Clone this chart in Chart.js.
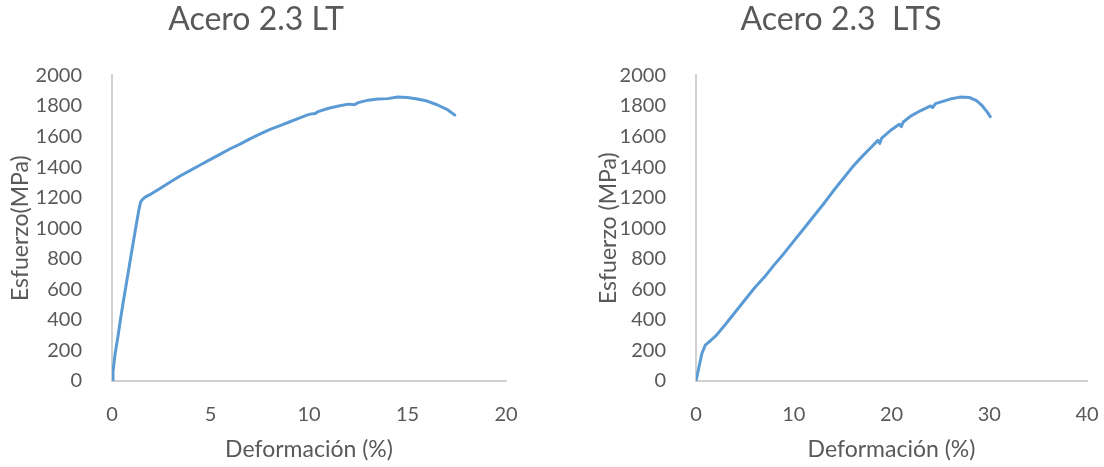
<!DOCTYPE html>
<html>
<head>
<meta charset="utf-8">
<script src="https://cdn.jsdelivr.net/npm/chart.js@4.4.1/dist/chart.umd.min.js"></script>
<style>
  html, body { margin: 0; padding: 0; background: #ffffff; }
  body { width: 1104px; height: 467px; position: relative; overflow: hidden; }
  canvas { position: absolute; top: 0; }
  #chartLT { left: 0; }
  #chartLTS { left: 552px; }
</style>
</head>
<body>
<canvas id="chartLT" width="552" height="467"></canvas>
<canvas id="chartLTS" width="552" height="467"></canvas>
<script>
// Curva esfuerzo–deformación, acero 2.3 LT
const ltStrain = [0, 0.05, 0.15, 0.3, 0.45, 0.6, 0.75, 0.9, 1.05, 1.2, 1.35, 1.45, 1.55, 1.7, 2.0, 2.5, 3.0, 3.5, 4.0, 4.5,
  5.0, 5.5, 6.0, 6.5, 7.0, 7.5, 8.0, 8.5, 9.0, 9.5, 10.0, 10.3, 10.5, 11.0, 11.5, 12.0, 12.3, 12.5, 13.0, 13.5,
  14.0, 14.5, 15.0, 15.5, 16.0, 16.5, 17.0, 17.4];
const ltStress = [0, 60, 170, 290, 420, 540, 655, 770, 885, 1000, 1110, 1170, 1188, 1205, 1225, 1265, 1305, 1345, 1380, 1415,
  1450, 1485, 1520, 1550, 1585, 1615, 1645, 1670, 1695, 1720, 1745, 1750, 1765, 1785, 1800, 1812, 1808, 1822, 1838, 1845,
  1848, 1858, 1855, 1845, 1832, 1808, 1778, 1740];

// Curva esfuerzo–deformación, acero 2.3 LTS
const ltsStrain = [0, 0.3, 0.6, 0.95, 1.5, 2.1, 3, 4, 5, 6, 7, 8, 9, 10, 11, 12, 13, 14, 15, 16, 17, 18,
  18.6, 18.8, 19, 20, 20.8, 21, 21.2, 22, 23, 24, 24.2, 24.5, 25, 26, 27, 28, 28.7, 29.3, 29.8, 30.1];
const ltsStress = [0, 90, 180, 235, 265, 300, 370, 450, 530, 610, 680, 760, 835, 915, 995, 1075, 1155, 1240, 1320, 1400, 1470, 1535,
  1575, 1555, 1590, 1645, 1680, 1665, 1695, 1735, 1770, 1800, 1790, 1815, 1825, 1845, 1858, 1855, 1835, 1800, 1760, 1730];

// Marcas de los ejes
const stressTicks = [0, 200, 400, 600, 800, 1000, 1200, 1400, 1600, 1800, 2000];
const ltStrainTicks = [0, 5, 10, 15, 20];
const ltsStrainTicks = [0, 10, 20, 30, 40];

const TEXT = '#595959';
const AXIS = '#d0d0d0';
const LINE = '#5b9bd5';
const FAMILY = 'Lato, "Open Sans", sans-serif';

function toPoints(xs, ys) {
  return xs.map((x, i) => ({ x: x, y: ys[i] }));
}

function fixedTicks(values) {
  return scale => { scale.ticks = values.map(v => ({ value: v })); };
}

function buildChart(id, cfg) {
  return new Chart(document.getElementById(id), {
    type: 'scatter',
    data: {
      datasets: [{
        data: toPoints(cfg.xs, cfg.ys),
        showLine: true,
        borderColor: LINE,
        borderWidth: 3,
        pointRadius: 0,
        pointHoverRadius: 0,
        tension: 0,
        borderJoinStyle: 'round',
        borderCapStyle: 'round'
      }]
    },
    options: {
      responsive: false,
      animation: false,
      events: [],
      layout: { padding: { left: cfg.padLeft, right: cfg.padRight, top: 0, bottom: 0 } },
      plugins: {
        legend: { display: false },
        tooltip: { enabled: false },
        title: {
          display: true,
          text: cfg.title,
          color: TEXT,
          font: { family: FAMILY, size: 32, weight: 'normal' },
          padding: { top: 0, bottom: 37 }
        }
      },
      scales: {
        x: {
          type: 'linear',
          min: cfg.xTicks[0],
          max: cfg.xTicks[cfg.xTicks.length - 1],
          afterBuildTicks: fixedTicks(cfg.xTicks),
          afterFit: s => { s.height = 86; s.paddingLeft = 0; s.paddingRight = 0; },
          grid: { display: false },
          border: { display: true, color: AXIS, width: 2 },
          ticks: {
            color: TEXT, font: { family: FAMILY, size: 20 }, padding: 14, maxRotation: 0,
            callback: v => String(v)
          },
          title: {
            display: true,
            text: 'Deformación (%)',
            color: TEXT,
            font: { family: FAMILY, size: 23 },
            padding: { top: 0, bottom: 4 }
          }
        },
        y: {
          type: 'linear',
          min: 0,
          max: 2000,
          afterBuildTicks: fixedTicks(stressTicks),
          afterFit: s => { s.width = cfg.yWidth; },
          grid: { display: false },
          border: { display: true, color: AXIS, width: 2 },
          ticks: {
            color: TEXT, font: { family: FAMILY, size: 20 }, padding: 22,
            callback: v => String(v)
          },
          title: {
            display: true,
            text: cfg.yTitle,
            color: TEXT,
            font: { family: FAMILY, size: 23 },
            padding: { top: cfg.yTitlePad, bottom: 0 }
          }
        }
      }
    }
  });
}

buildChart('chartLT', {
  xs: ltStrain, ys: ltStress, xTicks: ltStrainTicks,
  title: 'Acero 2.3 LT', yTitle: 'Esfuerzo(MPa)',
  padLeft: 6, padRight: 46, yWidth: 106, yTitlePad: 1
});

buildChart('chartLTS', {
  xs: ltsStrain, ys: ltsStress, xTicks: ltsStrainTicks,
  title: 'Acero 2.3  LTS', yTitle: 'Esfuerzo (MPa)',
  padLeft: 43, padRight: 17, yWidth: 101, yTitlePad: 0
});
</script>
</body>
</html>
